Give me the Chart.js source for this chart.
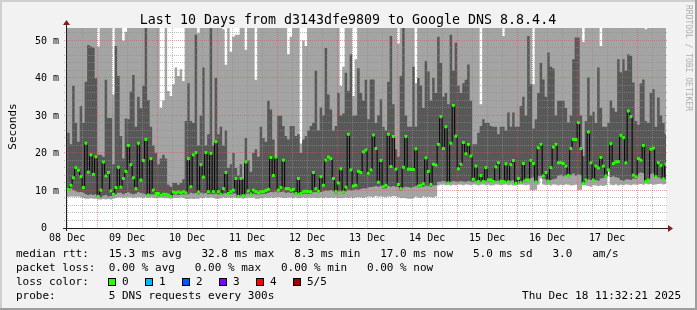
<!DOCTYPE html>
<html><head><meta charset="utf-8">
<script src="https://cdn.jsdelivr.net/npm/chart.js"></script>
<style>html,body{margin:0;padding:0;background:#f2f2f2;}canvas{display:block}</style>
</head><body>
<canvas id="c" width="697" height="310"></canvas>
<script>
// ---------- data ----------
const titleText = "Last 10 Days from d3143dfe9809 to Google DNS 8.8.4.4";
const yAxisTitle = "Seconds";
const watermark = "RRDTOOL / TOBI OETIKER";
const dayLabels = ["08 Dec","09 Dec","10 Dec","11 Dec","12 Dec","13 Dec","14 Dec","15 Dec","16 Dec","17 Dec"];
const dayLabelHours = [12,36,60,84,108,132,156,180,204,228];   // noon of each day, hours since 08 Dec 00:00
const yTickValues = [0,10,20,30,40,50];
const yTickLabels = ["0  ","10 m","20 m","30 m","40 m","50 m"];
const firstStepHour = 12;       // hourly consolidated steps
const viewStartHour = 11.54;    // 08 Dec 11:32
const viewEndHour = 251.54;     // 18 Dec 11:32
const yMaxMs = 53.333;

// sorted ping values per hour step (ms): lowest, 2nd, median, 4th, highest
const pingLow = [
 8.3,8.4,8.4,8.3,8.4,8.2,8.0,7.8,7.8,7.9, 7.8,7.8,7.6,7.6,7.7,7.6,7.7,7.6,7.8,8.0,
 8.1,8.1,8.0,8.1,8.2,8.1,8.0,8.1,8.2,8.1, 8.0,8.1,8.0,8.1,8.0,7.9,8.0,8.1,8.0,7.9,
 7.9,7.8,8.0,8.0,8.0,8.1,8.0,7.7,7.7,7.8, 7.7,7.8,7.8,8.0,8.0,8.1,8.0,8.1,8.0,7.8,
 7.8,7.9,8.1,8.0,8.1,8.0,8.1,8.0,7.9,8.0, 7.8,8.0,8.1,8.0,8.1,7.8,7.8,7.9,8.0,8.1,
 8.0,8.1,8.0,8.1,8.2,8.1,8.0,8.0,8.1,8.1, 8.0,8.1,7.9,8.0,8.1,8.0,8.1,8.0,8.1,8.0,
 8.0,8.1,8.0,8.1,8.0,8.1,8.0,8.1,8.0,7.9, 8.0,8.1,8.0,8.1,8.0,8.1,8.2,8.1,8.0,8.2,
 8.4,8.3,8.2,8.5,8.3,8.4,8.3,8.2,8.4,8.3, 8.5,8.4,8.2,7.9,8.0,7.9,7.8,7.8,7.9,8.3,
 8.1,8.0,8.4,8.2,8.3,8.2,8.1,8.4,11.3,11.5, 11.6,11.4,11.5,11.3,11.5,11.4,11.6,11.5,11.4,11.6,
 11.5,11.4,11.6,11.5,11.3,11.5,11.6,11.4,11.5,11.3, 11.4,11.6,11.5,11.4,11.5,11.6,11.4,11.5,11.3,11.4,
 11.5,11.6,11.5,11.4,11.5,10.1,10.0,10.2,11.5,13.2, 11.6,11.4,11.5,11.3,11.6,11.5,11.3,11.5,11.4,11.6,
 11.5,11.3,11.4,11.5,10.1,10.2,11.4,11.3,11.2,11.0, 11.4,11.3,11.2,11.3,11.2,11.4,15.0,11.5,11.4,11.6,
 11.3,11.5,11.4,11.6,11.5,11.4,11.6,11.5,11.6,11.7, 11.5,11.8,11.6,11.7,11.5,11.6,11.7,11.8,11.6,11.7
];
const pingSecond = [
 10.0,10.6,10.2,9.8,9.5,9.6,9.4,9.0,8.8,9.0, 8.8,9.0,8.1,8.2,8.6,8.8,8.4,8.5,8.6,9.0,
 9.4,9.4,9.0,9.3,9.5,9.2,9.0,9.2,9.6,9.3, 9.2,9.0,8.5,9.0,8.9,8.8,8.7,8.4,8.6,8.6,
 8.5,8.1,8.9,8.9,8.8,8.9,9.0,8.9,9.0,9.4, 9.2,9.3,9.0,9.4,9.2,9.3,9.0,9.1,9.0,9.2,
 9.0,8.7,9.1,9.3,8.8,9.1,9.2,9.1,8.1,8.9, 8.3,9.1,9.2,8.8,9.2,9.0,8.9,9.1,9.1,9.2,
 9.4,9.6,9.5,9.7,9.5,9.6,9.7,9.4,9.5,9.3, 9.4,8.8,9.3,8.8,9.1,9.2,9.1,9.2,9.5,9.6,
 9.3,9.6,9.8,10.0,9.9,10.1,9.8,9.2,9.8,9.9, 9.1,9.8,10.2,10.0,10.1,10.3,10.2,10.4,10.6,10.5,
 10.8,10.9,11.0,11.2,11.0,11.3,10.4,10.6,11.2,11.0, 11.2,11.0,10.9,10.0,10.8,11.0,10.9,10.7,10.9,11.2,
 10.7,10.9,11.0,11.3,11.2,11.0,11.3,11.4,12.3,12.4, 12.5,12.4,11.8,12.3,12.5,12.4,12.3,12.5,12.4,12.3,
 12.5,12.4,12.3,12.5,12.1,12.4,12.1,12.5,12.3,12.4, 12.1,12.5,12.6,12.2,12.1,12.5,12.0,12.6,12.7,11.7,
 12.5,11.9,12.8,12.4,12.5,13.3,13.5,12.1,13.8,14.0, 13.2,13.0,12.3,12.8,13.0,13.2,14.0,14.2,13.8,14.1,
 13.5,14.2,14.5,14.0,14.3,14.1,11.7,12.4,13.0,12.8, 12.5,12.8,12.6,13.2,13.4,13.5,15.2,13.6,13.8,13.5,
 13.4,12.8,12.6,12.9,13.0,12.8,13.2,13.1,14.5,14.8, 14.6,12.2,12.5,14.4,14.6,13.4,13.5,13.2,12.8,12.9
];
const pingMedian = [
 10.3,11.4,13.4,16.1,15.4,13.7,10.8,22.6,14.9,19.5, 14.3,19.0,8.4,10.1,17.6,13.9,14.8,9.9,9.0,10.8,
 16.2,10.9,13.2,15.1,22.0,16.9,13.4,10.5,22.6,12.8, 18.0,23.6,8.8,18.5,10.1,9.2,9.2,8.7,9.0,9.0,
 8.8,8.4,9.6,9.4,9.6,9.4,9.7,9.4,18.5,11.0, 19.5,20.1,9.6,16.9,13.6,20.1,9.7,19.9,9.7,23.0,
 9.7,9.0,10.5,14.8,9.2,9.7,10.1,13.2,8.4,13.2, 8.6,17.6,9.9,9.1,10.1,9.7,9.4,9.7,9.7,10.0,
 10.3,18.8,14.0,18.9,10.1,10.8,18.1,10.5,10.5,10.1, 10.3,9.2,13.2,9.2,9.7,9.8,9.7,9.7,14.8,10.5,
 9.8,13.7,11.4,18.1,18.9,18.5,13.2,9.7,12.0,15.8, 9.6,10.9,25.0,15.5,11.2,11.4,15.1,14.8,20.3,20.8,
 14.6,15.5,24.8,21.2,12.2,18.0,11.0,11.4,25.0,16.4, 24.4,15.7,11.6,10.5,16.2,24.4,15.7,15.6,15.6,21.1,
 11.2,11.4,11.8,18.7,15.1,11.6,17.0,16.8,22.3,29.7, 21.2,27.0,12.0,22.6,32.7,24.5,15.8,17.0,22.8,19.8,
 22.3,19.2,13.0,16.5,12.4,14.0,12.4,16.1,12.8,12.8, 12.4,16.3,17.4,12.5,12.4,17.1,12.3,16.9,18.0,11.9,
 13.2,12.1,17.2,12.8,12.8,18.0,17.2,12.3,21.4,22.3, 13.9,14.8,12.5,16.1,21.6,22.3,17.4,17.4,17.2,16.5,
 14.0,21.2,23.6,23.6,28.1,21.2,11.9,12.8,25.6,17.4, 12.8,16.5,16.0,18.8,16.5,13.9,15.5,22.5,17.2,17.6,
 17.7,24.7,24.1,17.4,31.2,29.7,14.1,13.7,18.5,18.1, 22.0,12.4,12.8,21.0,21.3,13.7,17.4,16.7,13.1,17.0
];
const pingFourth = [
 25.4,22.3,37.9,28,23,32.5,28,39,48.8,48.4, 48.1,39.9,19.5,19.5,19,39.5,29.3,29.3,17,48.5,
 40.5,24.5,18.5,29.2,29,36.4,40.8,27,35,31.9, 37.9,60,34.1,27,22,20,17,18.5,19.5,18.5,
 11.5,11,12,12,11.5,12,13,28.5,38.6,28.5, 28,51.5,22,30,42.8,22,25,60,22,40,
 25,27,22,26,16,17,20,16,14,17, 13,24,18,15,20,21,19,27,24,23,
 33.9,31.6,23.6,19.2,29.9,29.9,27.2,24.5,23.6,27.2, 27.2,24.5,25,20,23.6,24.5,26,27.2,28,41.9,
 26,32.1,30,48,35.6,31.6,26,27.2,36,30, 30.5,41.4,36.5,46.3,29.9,30,42.6,36,34,39.5,
 29,39.6,39.6,28,30,34.3,27,26,39,51.2, 33,21,19,40.5,60,30,27,27,43,27,
 40,38,32,44.5,41.7,34,40,36,51,44, 35,36,33,51.5,42,49.4,38,36,38.6,39.5,
 43.6,33.9,22.3,22.3,25.4,27.2,29,28,28,27.2, 27,27,25,27,27,26,30.8,27,30.8,27,
 27,32.5,35,30,51.2,38.3,26.5,29,36,44, 39.6,35,46.8,43,42.5,30,33.9,33.9,33.9,32,
 28.1,30,45,50.8,50.8,30,19.2,28.5,40.1,30, 31,28,42.8,32,27,27,28,34,32,31,
 45,41.5,45,42,46.3,45.9,38.8,28.5,27.5,38.5, 39.6,28.5,28,36,37,27,34.8,30,28,25
];
const pingHigh = [
 60,60,60,60,60,60,60,60,60,60, 60,60,48.4,60,60,60,60,60,35.6,60,
 60,60,49.9,52.3,60,60,60,60,60,60, 60,60,60,60,60,60,60,32,34,60,
 36.5,35.2,38.3,42.8,40.5,42.3,39.2,60,60,60, 60,60,52,60,60,60,60,60,60,60,
 60,60,53,43.5,60,47,51,51.5,51.5,60, 60,47.5,60,60,60,39.5,60,60,60,60,
 60,60,60,60,60,60,60,60,46.3,51, 60,60,60,22.5,50,48.5,60,60,60,60,
 60,60,60,60,60,60,60,60,60,37.9, 43,60,60,60,35.2,45,60,60,60,60,
 60,60,60,60,60,60,60,60,60,60, 60,60,49.2,60,60,60,60,60,60,38.6,
 60,60,60,60,60,60,60,60,60,60, 60,60,60,60,60,60,60,60,60,60,
 60,60,60,60,60,33,60,60,60,60, 60,60,60,60,51.2,60,60,60,60,60,
 60,60,60,60,60,60,38.3,60,60,60, 60,60,60,60,60,60,60,60,60,60,
 60,60,60,60,60,60,49.6,60,60,60, 60,60,60,48.5,60,60,60,60,60,60,
 60,60,60,60,60,60,60,60,60,60, 60,53,60,60,60,60,60,60,60,60
];

const legendRtt = "median rtt:   15.3 ms avg   32.8 ms max   8.3 ms min   17.0 ms now   5.0 ms sd   3.0   am/s";
const legendLoss = "packet loss:  0.00 % avg   0.00 % max   0.00 % min   0.00 % now";
const legendLossTitle = "loss color:";
const lossLabels = ["0","1","2","3","4","5/5"];
const lossColors = ["#26ff00","#00b8ff","#0059ff","#7e00ff","#ff0000","#a10000"];
const probeLabel = "probe:        5 DNS requests every 300s";
const stampText = "Thu Dec 18 11:32:21 2025";

// ---------- helpers ----------
function stepSeries(vals){
  const pts=[{x:viewStartHour,y:vals[0]}];
  vals.forEach((v,i)=>pts.push({x:firstStepHour+i,y:v}));
  pts.push({x:firstStepHour+vals.length,y:vals[vals.length-1]});
  return pts;
}
const MONO='"DejaVu Sans Mono", "Liberation Mono", monospace';
const hidden={stepped:true,borderWidth:0,borderColor:'rgba(0,0,0,0)',pointRadius:0,pointHoverRadius:0};

const rrdPlugin={
  id:'rrd',
  beforeDraw(chart){
    const ctx=chart.ctx, a=chart.chartArea, W=chart.width, H=chart.height;
    ctx.save();
    ctx.fillStyle='#f2f2f2'; ctx.fillRect(0,0,W,H);
    ctx.fillStyle='#cfcfcf'; ctx.fillRect(0,0,W,2); ctx.fillRect(0,0,2,H);
    ctx.fillStyle='#9e9e9e'; ctx.fillRect(0,H-2,W,2); ctx.fillRect(W-2,0,2,H);
    ctx.fillStyle='#ffffff'; ctx.fillRect(a.left,a.top,a.right-a.left,a.bottom-a.top);
    ctx.restore();
  },
  beforeDatasetDraw(chart,args){
    if(args.index!==1) return;
    const ctx=chart.ctx, a=chart.chartArea, xs=chart.scales.x, ys=chart.scales.y;
    ctx.save();
    ctx.lineWidth=1; ctx.setLineDash([1,1]);
    ctx.strokeStyle='rgba(143,143,143,0.6)';
    for(let v=2; v<yMaxMs; v+=2){
      if(v%10===0) continue;
      const y=Math.floor(ys.getPixelForValue(v))+0.5;
      ctx.beginPath(); ctx.moveTo(a.left-2,y); ctx.lineTo(a.right+2,y); ctx.stroke();
    }
    for(let h=Math.ceil(viewStartHour/6)*6; h<viewEndHour; h+=6){
      if(h%24===0) continue;
      const x=Math.floor(xs.getPixelForValue(h))+0.5;
      ctx.beginPath(); ctx.moveTo(x,a.top); ctx.lineTo(x,a.bottom+2); ctx.stroke();
    }
    ctx.strokeStyle='rgba(222,79,79,0.55)';
    yTickValues.forEach(v=>{
      if(v===0) return;
      const y=Math.floor(ys.getPixelForValue(v))+0.5;
      ctx.beginPath(); ctx.moveTo(a.left-2,y); ctx.lineTo(a.right+2,y); ctx.stroke();
    });
    for(let h=Math.ceil(viewStartHour/24)*24; h<viewEndHour; h+=24){
      const x=Math.floor(xs.getPixelForValue(h))+0.5;
      ctx.beginPath(); ctx.moveTo(x,a.top); ctx.lineTo(x,a.bottom+2); ctx.stroke();
    }
    ctx.restore();
  },
  afterDraw(chart){
    const ctx=chart.ctx, a=chart.chartArea, xs=chart.scales.x, ys=chart.scales.y;
    ctx.save();
    ctx.strokeStyle='#1f1f1f'; ctx.lineWidth=1;
    const ay=Math.floor(a.bottom)+0.5, ax=Math.floor(a.left)+0.5;
    ctx.beginPath(); ctx.moveTo(a.left-3,ay); ctx.lineTo(a.right+2,ay); ctx.stroke();
    ctx.beginPath(); ctx.moveTo(ax,a.bottom+3); ctx.lineTo(ax,a.top-3); ctx.stroke();
    ctx.fillStyle='#7f1f1f';
    ctx.beginPath(); ctx.moveTo(a.right+2,ay-3.5); ctx.lineTo(a.right+7,ay); ctx.lineTo(a.right+2,ay+3.5); ctx.closePath(); ctx.fill();
    ctx.beginPath(); ctx.moveTo(ax-3.5,a.top-3); ctx.lineTo(ax,a.top-8); ctx.lineTo(ax+3.5,a.top-3); ctx.closePath(); ctx.fill();
    ctx.fillStyle='#000';
    ctx.font='13.3px '+MONO; ctx.textAlign='center'; ctx.textBaseline='alphabetic';
    ctx.fillText(titleText,348,24);
    ctx.font='10px '+MONO; ctx.textAlign='right'; ctx.textBaseline='middle';
    yTickValues.forEach((v,i)=>{ ctx.fillText(yTickLabels[i],59,ys.getPixelForValue(v)+0.5); });
    ctx.textAlign='center'; ctx.textBaseline='alphabetic';
    dayLabels.forEach((t,i)=>{ ctx.fillText(t,xs.getPixelForValue(dayLabelHours[i]),241); });
    ctx.save(); ctx.font='11px '+MONO; ctx.translate(15.5,126.5); ctx.rotate(-Math.PI/2);
    ctx.textAlign='center'; ctx.fillText(yAxisTitle,0,0); ctx.restore();
    ctx.save(); ctx.font='8px '+MONO; ctx.fillStyle='rgba(0,0,0,0.3)'; ctx.translate(685.5,5); ctx.rotate(Math.PI/2);
    ctx.textAlign='left'; ctx.fillText(watermark,0,0); ctx.restore();
    ctx.font='11px '+MONO; ctx.textAlign='left'; ctx.fillStyle='#000';
    ctx.fillText(legendRtt,16,257);
    ctx.fillText(legendLoss,16,271);
    ctx.fillText(legendLossTitle,16,285);
    lossLabels.forEach((t,i)=>{
      const bx=Math.round(108+36.9*i);
      ctx.fillStyle=lossColors[i]; ctx.fillRect(bx,278,8,8);
      ctx.strokeStyle='#000'; ctx.lineWidth=1; ctx.strokeRect(bx+0.5,278.5,7,7);
      ctx.fillStyle='#000'; ctx.fillText(t,bx+14,285);
    });
    ctx.fillText(probeLabel,16,299);
    ctx.textAlign='right'; ctx.fillText(stampText,681,299);
    ctx.restore();
  }
};

new Chart(document.getElementById('c'),{
  type:'line',
  data:{datasets:[
    {label:'median loss 0',data:pingMedian.map((v,i)=>({x:firstStepHour+i+0.5,y:v})),showLine:false,
     pointStyle:'rect',pointRadius:2.1,pointHoverRadius:2.1,pointBackgroundColor:'#26ff00',backgroundColor:'#26ff00',pointBorderWidth:0,borderWidth:0,fill:false},
    {label:'median',data:stepSeries(pingMedian),stepped:true,borderColor:'#000',borderWidth:1,pointRadius:0,pointHoverRadius:0,fill:false},
    Object.assign({label:'ping 4',data:stepSeries(pingFourth),fill:3,backgroundColor:'#585858'},hidden),
    Object.assign({label:'ping 2',data:stepSeries(pingSecond),fill:false},hidden),
    Object.assign({label:'ping 5',data:stepSeries(pingHigh),fill:5,backgroundColor:'#a4a4a4'},hidden),
    Object.assign({label:'ping 1',data:stepSeries(pingLow),fill:false},hidden)
  ]},
  options:{
    responsive:false,animation:false,devicePixelRatio:1,events:[],
    layout:{padding:{left:66,right:31,top:28,bottom:82}},
    scales:{
      x:{type:'linear',min:viewStartHour,max:viewEndHour,display:false},
      y:{type:'linear',min:0,max:yMaxMs,display:false}
    },
    plugins:{legend:{display:false},tooltip:{enabled:false},title:{display:false}}
  },
  plugins:[rrdPlugin]
});
</script>
</body></html>
